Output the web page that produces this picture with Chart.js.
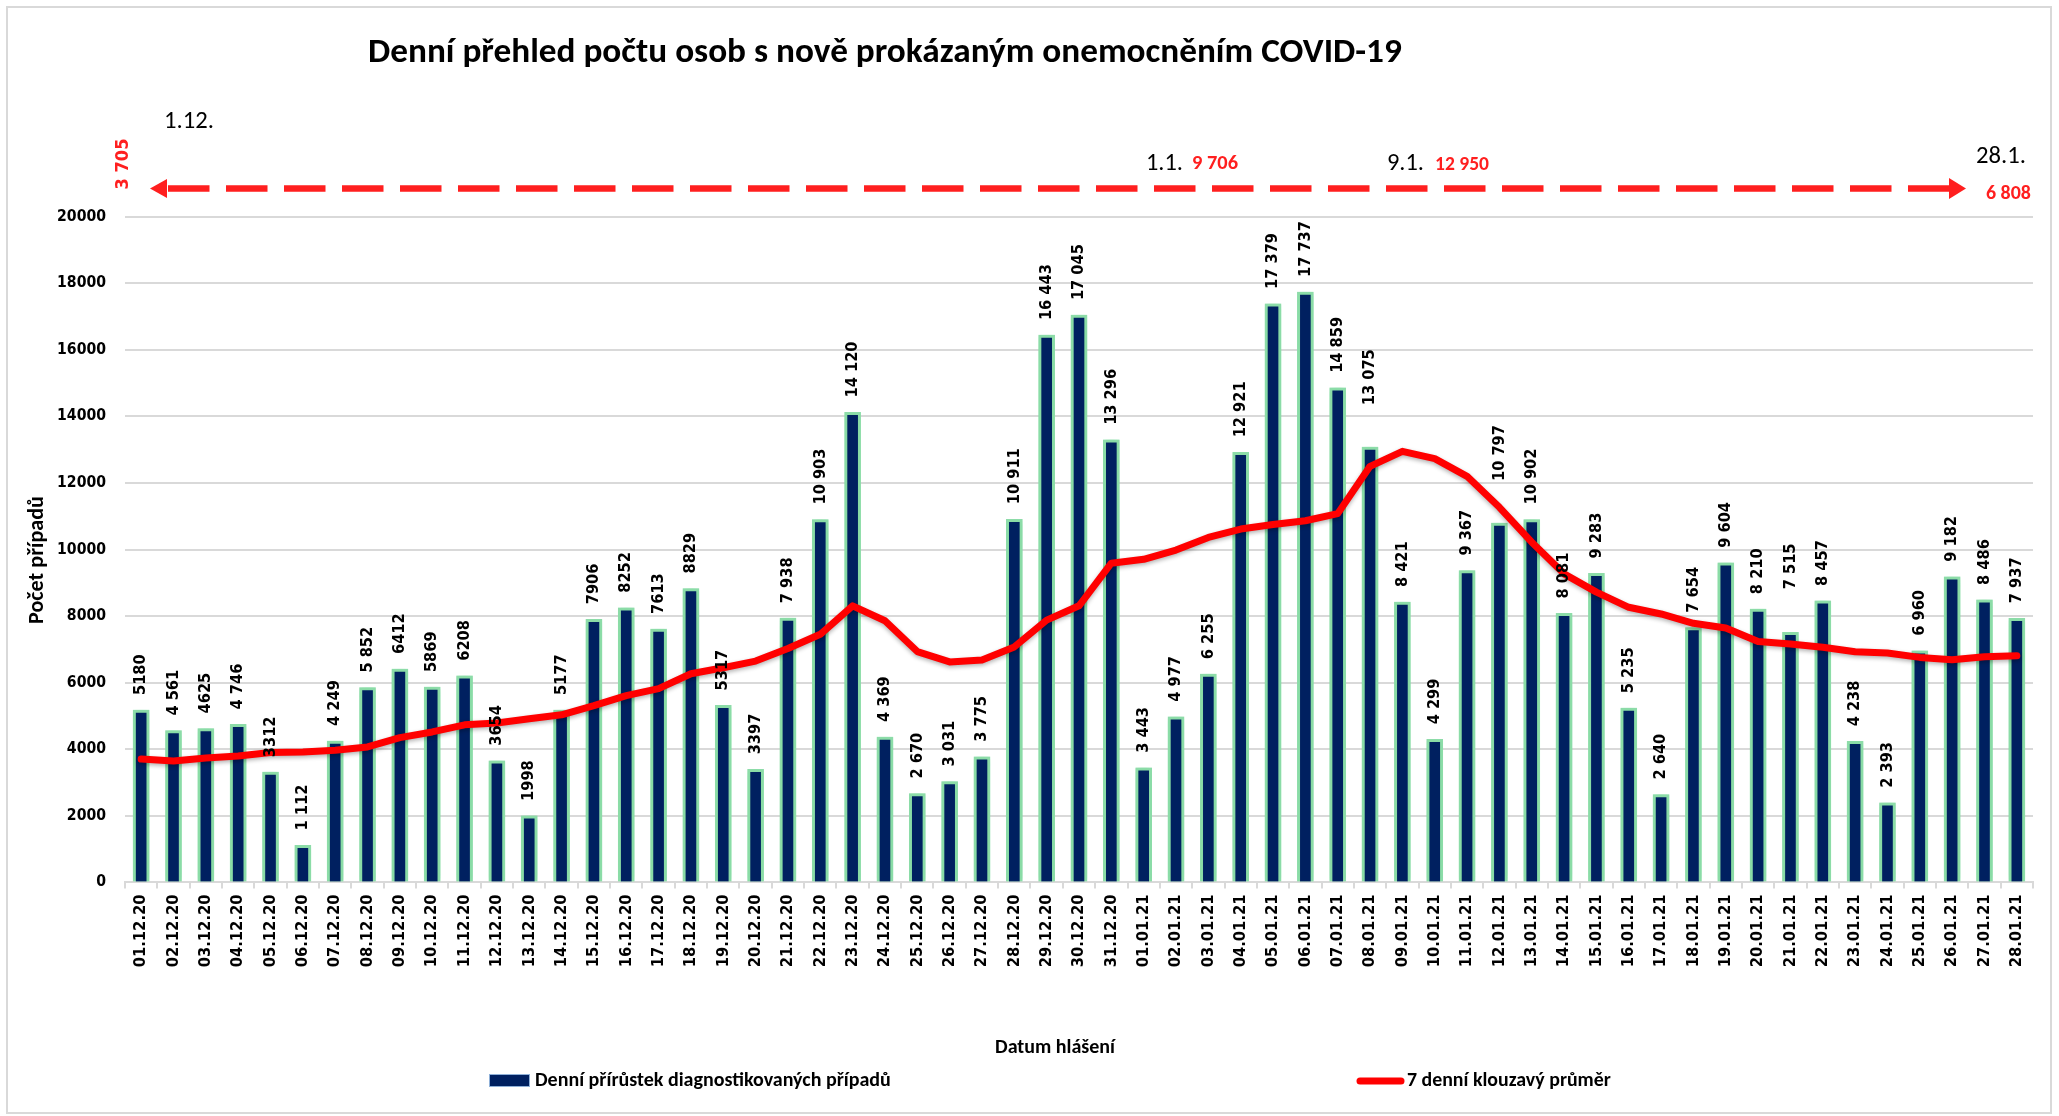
<!DOCTYPE html>
<html><head><meta charset="utf-8">
<script src="https://cdn.jsdelivr.net/npm/chart.js@4/dist/chart.umd.min.js"></script>
<style>html,body{margin:0;padding:0;background:#fff;overflow:hidden}canvas{display:block}</style>
</head><body>
<canvas id="c" width="2059" height="1116"></canvas>
<script>
const categories = ['01.12.20','02.12.20','03.12.20','04.12.20','05.12.20','06.12.20','07.12.20','08.12.20','09.12.20','10.12.20','11.12.20','12.12.20','13.12.20','14.12.20','15.12.20','16.12.20','17.12.20','18.12.20','19.12.20','20.12.20','21.12.20','22.12.20','23.12.20','24.12.20','25.12.20','26.12.20','27.12.20','28.12.20','29.12.20','30.12.20','31.12.20','01.01.21','02.01.21','03.01.21','04.01.21','05.01.21','06.01.21','07.01.21','08.01.21','09.01.21','10.01.21','11.01.21','12.01.21','13.01.21','14.01.21','15.01.21','16.01.21','17.01.21','18.01.21','19.01.21','20.01.21','21.01.21','22.01.21','23.01.21','24.01.21','25.01.21','26.01.21','27.01.21','28.01.21'];
const dailyCases = [5180,4561,4625,4746,3312,1112,4249,5852,6412,5869,6208,3654,1998,5177,7906,8252,7613,8829,5317,3397,7938,10903,14120,4369,2670,3031,3775,10911,16443,17045,13296,3443,4977,6255,12921,17379,17737,14859,13075,8421,4299,9367,10797,10902,8081,9283,5235,2640,7654,9604,8210,7515,8457,4238,2393,6960,9182,8486,7937];
const dailyCaseLabels = ['5180','4 561','4625','4 746','3312','1 112','4 249','5 852','6412','5869','6208','3654','1998','5177','7906','8252','7613','8829','5317','3397','7 938','10 903','14 120','4 369','2 670','3 031','3 775','10 911','16 443','17 045','13 296','3 443','4 977','6 255','12 921','17 379','17 737','14 859','13 075','8 421','4 299','9 367','10 797','10 902','8 081','9 283','5 235','2 640','7 654','9 604','8 210','7 515','8 457','4 238','2 393','6 960','9 182','8 486','7 937'];
const movingAverage = [3705,3650,3740,3800,3900,3920,3970,4070,4350,4520,4735,4790,4915,5035,5310,5610,5820,6270,6450,6650,7025,7455,8310,7860,6935,6625,6685,7075,7880,8310,9590,9706,9985,10365,10615,10750,10865,11080,12500,12950,12730,12200,11270,10220,9270,8720,8265,8065,7785,7645,7235,7165,7065,6930,6890,6760,6690,6780,6808];
const seriesNames = ['Denní přírůstek diagnostikovaných případů','7 denní klouzavý průměr'];
const chartTitle = 'Denní přehled počtu osob s nově prokázaným onemocněním COVID-19';
const yAxisTitle = 'Počet případů';
const xAxisTitle = 'Datum hlášení';
const yMin = 0, yMax = 20000, yStep = 2000;
const markers = [
  {date:'1.12.', value:'3 705'},
  {date:'1.1.', value:'9 706'},
  {date:'9.1.', value:'12 950'},
  {date:'28.1.', value:'6 808'}
];

// ---- font helpers ----
const mctx = document.createElement('canvas').getContext('2d');
function fit(weight, family, text, target){ mctx.font = weight+' 100px '+family; return 100*target/mctx.measureText(text).width; }
const NUM = '"DejaVu Sans Condensed", "DejaVu Sans", sans-serif';
const TXT = 'Carlito, "Liberation Sans", sans-serif';
const yTickSize = fit('bold', NUM, '20000', 49);
const xTickSize = fit('bold', NUM, '01.12.20', 73);
const labelSize = fit('bold', NUM, '17 737', 56);

const ctxEl = document.getElementById('c');

const glowPlugin = {
  id:'glow',
  beforeDatasetDraw(chart,args){
    const c=chart.ctx; c.save();
    if(args.index===0){ c.shadowColor='rgba(130,220,160,1)'; c.shadowBlur=7; }
    else { c.shadowColor='rgba(0,0,0,0.3)'; c.shadowBlur=4; c.shadowOffsetY=2; }
  },
  afterDatasetDraw(chart){ chart.ctx.restore(); }
};

const labelOffsets = {38:27, 42:27, 51:28};
const dataLabelPlugin = {
  id:'dataLabels',
  afterDatasetsDraw(chart){
    const c=chart.ctx, meta=chart.getDatasetMeta(0);
    c.save();
    c.fillStyle='#000';
    c.font='bold '+labelSize+'px '+NUM;
    c.textAlign='left'; c.textBaseline='middle';
    meta.data.forEach((el,i)=>{
      const y = el.y - 15 - (labelOffsets[i]||0);
      c.save(); c.translate(el.x, y); c.rotate(-Math.PI/2);
      c.fillText(dailyCaseLabels[i],0,0); c.restore();
    });
    c.restore();
  }
};

function fitText(c, weight, family, text, width){ const s=fit(weight,family,text,width); c.font=weight+' '+s+'px '+family; return s; }

const annotPlugin = {
  id:'annot',
  afterDraw(chart){
    const c=chart.ctx;
    c.save();
    // frame
    c.strokeStyle='#d9d9d9'; c.lineWidth=2; c.strokeRect(7,7,2044,1106);
    c.fillStyle='#000'; c.textBaseline='middle';
    // title
    c.textAlign='left';
    fitText(c,'bold',TXT,chartTitle,1034); c.fillText(chartTitle,368,53);
    // y axis title
    c.save(); c.translate(37,560); c.rotate(-Math.PI/2); c.textAlign='center';
    fitText(c,'bold',TXT,yAxisTitle,128); c.fillText(yAxisTitle,0,0); c.restore();
    // x axis title
    c.textAlign='center'; fitText(c,'bold',TXT,xAxisTitle,120); c.fillText(xAxisTitle,1055,1048);
    // legend
    c.fillStyle='#002060'; c.fillRect(489,1074,41,13);
    c.strokeStyle='#8fb0d8'; c.lineWidth=1; c.strokeRect(489.5,1074.5,40,12);
    c.fillStyle='#000'; c.textAlign='left';
    fitText(c,'bold',TXT,seriesNames[0],356); c.fillText(seriesNames[0],535,1081);
    c.strokeStyle='#FF0000'; c.lineWidth=7; c.lineCap='round';
    c.beginPath(); c.moveTo(1360,1081); c.lineTo(1401,1081); c.stroke();
    fitText(c,'bold',TXT,seriesNames[1],204); c.fillText(seriesNames[1],1407,1081);
    // arrow
    const red='#FF1F1F';
    c.strokeStyle=red; c.fillStyle=red; c.lineWidth=6.5; c.lineCap='butt';
    c.setLineDash([41.5,16.5]);
    c.beginPath(); c.moveTo(168,188.5); c.lineTo(1949,188.5); c.stroke();
    c.setLineDash([]);
    c.beginPath(); c.moveTo(150,188.5); c.lineTo(167,179); c.lineTo(167,198); c.closePath(); c.fill();
    c.beginPath(); c.moveTo(1966,188.5); c.lineTo(1949,178); c.lineTo(1949,199); c.closePath(); c.fill();
    // marker texts
    c.fillStyle='#000'; c.textAlign='left';
    fitText(c,'normal',TXT,markers[0].date,50); c.fillText(markers[0].date,164,122);
    fitText(c,'normal',TXT,markers[1].date,37); c.fillText(markers[1].date,1146,164);
    fitText(c,'normal',TXT,markers[2].date,37); c.fillText(markers[2].date,1387,164);
    fitText(c,'normal',TXT,markers[3].date,50); c.fillText(markers[3].date,1976,157);
    c.fillStyle=red;
    fitText(c,'bold',TXT,markers[1].value,46); c.fillText(markers[1].value,1192,164);
    fitText(c,'bold',TXT,markers[2].value,54); c.fillText(markers[2].value,1435,165);
    fitText(c,'bold',TXT,markers[3].value,45); c.fillText(markers[3].value,1986,194);
    c.save(); c.translate(123,164); c.rotate(-Math.PI/2); c.textAlign='center';
    fitText(c,'bold',NUM,markers[0].value,51); c.fillText(markers[0].value,0,0); c.restore();
    c.restore();
  }
};

new Chart(ctxEl,{
  type:'bar',
  data:{labels:categories,datasets:[
    {type:'bar',label:seriesNames[0],data:dailyCases,backgroundColor:'#002060',borderColor:'#8fdcaa',borderWidth:3,barThickness:16,order:2},
    {type:'line',label:seriesNames[1],data:movingAverage,borderColor:'#FF0000',borderWidth:7,pointRadius:0,tension:0,order:1,borderCapStyle:'round',borderJoinStyle:'round'}
  ]},
  options:{
    responsive:false, devicePixelRatio:1, animation:false,
    layout:{padding:{top:216.7,right:26,left:0,bottom:0}},
    plugins:{legend:{display:false},title:{display:false},tooltip:{enabled:false}},
    scales:{
      x:{
        grid:{display:true,drawOnChartArea:false,drawTicks:true,tickLength:6,color:'#d9d9d9',lineWidth:2,offset:true},
        border:{display:true,color:'#d9d9d9',width:2},
        ticks:{autoSkip:false,minRotation:90,maxRotation:90,padding:6,color:'#000',font:{family:NUM,size:xTickSize,weight:'bold'}},
        afterFit(s){s.height=1116-882.4;}
      },
      y:{
        min:yMin,max:yMax,
        ticks:{stepSize:yStep,padding:19,color:'#000',font:{family:NUM,size:yTickSize,weight:'bold'},callback:v=>String(v)},
        grid:{color:'#d9d9d9',lineWidth:2,drawTicks:false},
        border:{display:false},
        afterFit(s){s.width=125;}
      }
    }
  },
  plugins:[glowPlugin,dataLabelPlugin,annotPlugin]
});
</script>
</body></html>
